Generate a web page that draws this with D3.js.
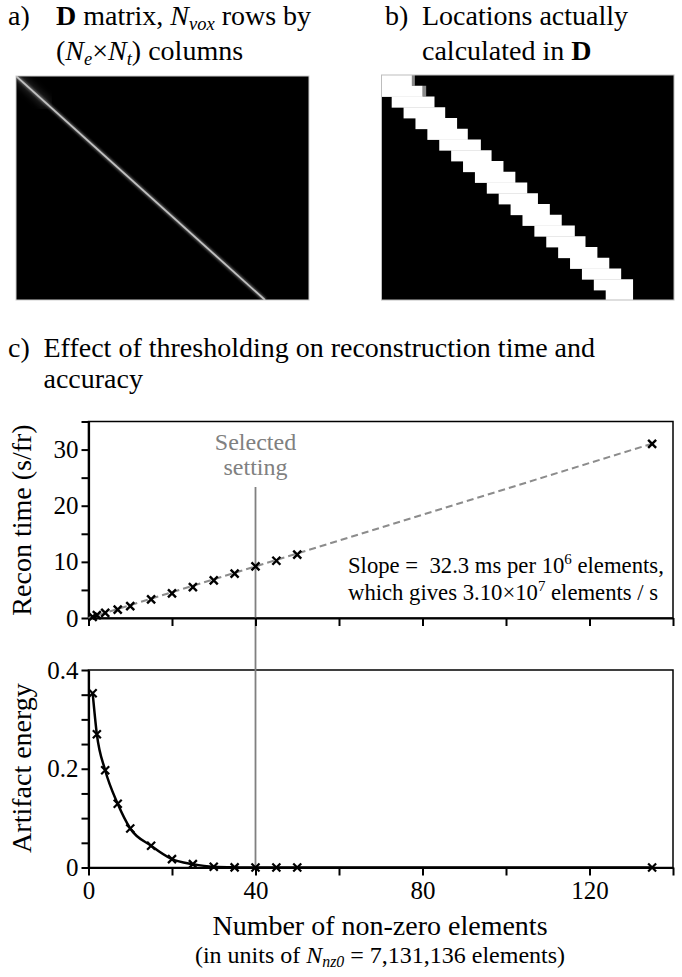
<!DOCTYPE html>
<html>
<head>
<meta charset="utf-8">
<script src="https://cdn.jsdelivr.net/npm/d3@7"></script>
<style>
  body { margin: 0; background: #fff; }
  svg { display: block; font-family: "Liberation Serif", "Times New Roman", serif; }
</style>
</head>
<body>
<svg id="fig" width="682" height="977"></svg>
<script>
// panel a: the diagonal of D (row fraction, column fraction)
const diagRow = [0, 1]
const diagCol = [0, 0.85]

// panel b: computed band, per block row (in block columns)
const bandStart = [0, 0, 1, 2, 3, 4, 5, 6, 7, 8, 9, 10, 11, 12, 13, 14, 15, 16, 17, 18, 19]
const bandEnd = [2.7, 3.6, 4.6, 5.5, 6.5, 7.4, 8.5, 9.4, 10.4, 11.4, 12.4, 13.3, 14.3, 15.3, 16.4, 17.3, 18.3, 19.3, 20.3, 21.3, 21.3]
const bandFringe = [2.95, 3.9]

// panel c
const nnz = [1, 2, 4, 7, 10, 15, 20, 25, 30, 35, 40, 45, 50, 135]
const reconTime = [0.2, 0.5, 0.9, 1.5, 2.1, 3.3, 4.4, 5.5, 6.7, 7.9, 9.2, 10.2, 11.3, 31.0]
const artifact = [0.353, 0.270, 0.197, 0.129, 0.079, 0.044, 0.017, 0.0068, 0.0014, 0.0003, 0, 0, 0, 0]
const fitX = [0, 135]
const fitY = [0, 31.05]
const selectedNnz = 40

const xTicks = [0, 20, 40, 60, 80, 100, 120, 140]
const xLabels = [0, 40, 80, 120]
const timeTicks = [0, 5, 10, 15, 20, 25, 30, 35]
const timeLabels = [0, 10, 20, 30]
const energyTicks = [0, 0.05, 0.1, 0.15, 0.2, 0.25, 0.3, 0.35, 0.4]
const energyLabels = [0, 0.2, 0.4]

const svg = d3.select('#fig')
const defs = svg.append('defs')
defs.append('filter').attr('id', 'blur').append('feGaussianBlur').attr('stdDeviation', 3.5)
defs.append('filter').attr('id', 'soft').append('feGaussianBlur').attr('stdDeviation', 1)

// ---------- panel a ----------
const ax = d3.scaleLinear().domain([0, 1]).range([16, 309])
const ay = d3.scaleLinear().domain([0, 1]).range([76, 300])
svg.append('rect')
  .attr('x', ax(0)).attr('y', ay(0))
  .attr('width', ax(1) - ax(0)).attr('height', ay(1) - ay(0))
  .attr('fill', '#000').attr('stroke', '#cfcfcf').attr('stroke-width', 1)
defs.append('clipPath').attr('id', 'clipA').append('rect')
  .attr('x', ax(0)).attr('y', ay(0)).attr('width', ax(1) - ax(0)).attr('height', ay(1) - ay(0))
const ga = svg.append('g').attr('clip-path', 'url(#clipA)')
// fuzzy start of the diagonal
ga.append('line')
  .attr('x1', ax(diagCol[0])).attr('y1', ay(diagRow[0]))
  .attr('x2', ax(diagCol[0] + (diagCol[1] - diagCol[0]) * 0.13))
  .attr('y2', ay(diagRow[0] + (diagRow[1] - diagRow[0]) * 0.13))
  .attr('stroke', '#5a5a5a').attr('stroke-width', 11).attr('opacity', 0.35)
  .attr('filter', 'url(#blur)')
ga.append('line')
  .attr('x1', ax(diagCol[0])).attr('y1', ay(diagRow[0]))
  .attr('x2', ax(diagCol[1])).attr('y2', ay(diagRow[1]))
  .attr('stroke', '#999').attr('stroke-width', 4).attr('opacity', 0.55)
  .attr('filter', 'url(#soft)')
ga.append('line')
  .attr('x1', ax(diagCol[0])).attr('y1', ay(diagRow[0]))
  .attr('x2', ax(diagCol[1])).attr('y2', ay(diagRow[1]))
  .attr('stroke', '#c0c0c0').attr('stroke-width', 1.8)

// ---------- panel b ----------
const bx = d3.scaleLinear().domain([0, 25]).range([379.8, 677.05])
const by = d3.scaleLinear().domain([0, 21]).range([75, 300.75])
defs.append('clipPath').attr('id', 'clipB').append('rect')
  .attr('x', 381.5).attr('y', 75).attr('width', 292.5).attr('height', 225)
svg.append('rect')
  .attr('x', 381.5).attr('y', 75).attr('width', 292.5).attr('height', 225)
  .attr('fill', '#000')
const gb = svg.append('g').attr('clip-path', 'url(#clipB)')
gb.selectAll('rect.fr')
  .data(bandFringe)
  .enter()
  .append('rect')
  .attr('class', 'fr')
  .attr('x', (d, i) => bx(bandEnd[i]))
  .attr('width', (d, i) => bx(d) - bx(bandEnd[i]))
  .attr('y', (d, i) => by(i))
  .attr('height', by(1) - by(0))
  .attr('fill', '#8a8a8a')
gb.selectAll('rect.band')
  .data(bandStart)
  .enter()
  .append('rect')
  .attr('class', 'band')
  .attr('x', (d, i) => bx(d))
  .attr('width', (d, i) => bx(bandEnd[i]) - bx(d))
  .attr('y', (d, i) => by(i))
  .attr('height', by(1) - by(0) + 0.4)
  .attr('fill', '#fff')
svg.append('rect')
  .attr('x', 381.5).attr('y', 75).attr('width', 292.5).attr('height', 225)
  .attr('fill', 'none').attr('stroke', '#bdbdbd').attr('stroke-width', 1)

// ---------- panel titles ----------
function addLine(x, y, size, parts, anchor) {
  const t = svg.append('text').attr('x', x).attr('y', y)
    .attr('font-size', size).attr('fill', '#000')
    .attr('text-anchor', anchor || 'start')
    .attr('xml:space', 'preserve')
  let shift = 0
  parts.forEach(p => {
    const s = t.append('tspan').text(p.t)
    if (p.b) s.attr('font-weight', 'bold')
    if (p.i) s.attr('font-style', 'italic')
    const want = p.sub ? size * 0.18 : (p.sup ? -size * 0.38 : 0)
    if (want !== shift) { s.attr('dy', want - shift); shift = want }
    if (p.sub || p.sup) s.attr('font-size', size * 0.66)
  })
  return t
}

addLine(8, 25, 28, [{t: 'a)'}])
addLine(56, 25, 28, [{t: 'D', b: 1}, {t: ' matrix, '}, {t: 'N', i: 1}, {t: 'vox', i: 1, sub: 1}, {t: ' rows by'}])
addLine(56, 60, 28, [{t: '('}, {t: 'N', i: 1}, {t: 'e', i: 1, sub: 1}, {t: '×'}, {t: 'N', i: 1}, {t: 't', i: 1, sub: 1}, {t: ') columns'}])
addLine(385, 25, 28, [{t: 'b)'}])
addLine(422, 25, 28, [{t: 'Locations actually'}])
addLine(422, 60, 28, [{t: 'calculated in '}, {t: 'D', b: 1}])
addLine(8, 357, 28, [{t: 'c)'}])
addLine(43.5, 357, 28, [{t: 'Effect of thresholding on reconstruction time and'}])
addLine(43.5, 388, 28, [{t: 'accuracy'}])

// ---------- panel c ----------
const x = d3.scaleLinear().domain([0, 140]).range([88.5, 673])
const yT = d3.scaleLinear().domain([0, 35]).range([618, 421.5])
const yE = d3.scaleLinear().domain([0, 0.4]).range([867.5, 670])

function frame(y) {
  svg.append('rect')
    .attr('x', x(0)).attr('y', y.range()[1])
    .attr('width', x(140) - x(0)).attr('height', y.range()[0] - y.range()[1])
    .attr('fill', 'none').attr('stroke', '#000').attr('stroke-width', 1.5)
}
frame(yT)
frame(yE)

function styleAxis(g) {
  g.select('.domain').attr('stroke', '#000').attr('stroke-width', 2.2)
  g.selectAll('.tick line').attr('stroke', '#000').attr('stroke-width', 2)
  g.selectAll('.tick text').attr('fill', '#000').attr('font-size', 25)
    .attr('font-family', '"Liberation Serif", "Times New Roman", serif')
}

// selected setting line
svg.append('line')
  .attr('x1', x(selectedNnz)).attr('x2', x(selectedNnz))
  .attr('y1', 487).attr('y2', yE(0))
  .attr('stroke', '#808080').attr('stroke-width', 1.8)
svg.append('text').attr('x', x(selectedNnz)).attr('y', 450)
  .attr('text-anchor', 'middle').attr('font-size', 24).attr('fill', '#808080').text('Selected')
svg.append('text').attr('x', x(selectedNnz)).attr('y', 475)
  .attr('text-anchor', 'middle').attr('font-size', 24).attr('fill', '#808080').text('setting')

// top axes
svg.append('g').attr('transform', `translate(0,${yT(0)})`)
  .call(d3.axisBottom(x).tickValues(xTicks).tickSize(8).tickSizeOuter(0).tickFormat(''))
  .call(styleAxis)
svg.append('g').attr('transform', `translate(${x(0)},0)`)
  .call(d3.axisLeft(yT).tickValues(timeTicks).tickSize(7).tickSizeOuter(0).tickPadding(3)
    .tickFormat(d => timeLabels.includes(d) ? d : ''))
  .call(styleAxis)

// bottom axes
svg.append('g').attr('transform', `translate(0,${yE(0)})`)
  .call(d3.axisBottom(x).tickValues(xTicks).tickSize(8).tickSizeOuter(0).tickPadding(6)
    .tickFormat(d => xLabels.includes(d) ? d : ''))
  .call(styleAxis)
svg.append('g').attr('transform', `translate(${x(0)},0)`)
  .call(d3.axisLeft(yE).tickValues(energyTicks).tickSize(7).tickSizeOuter(0).tickPadding(3)
    .tickFormat(d => energyLabels.includes(d) ? d : ''))
  .call(styleAxis)

// fit line
svg.append('path')
  .datum(fitX.map((d, i) => [d, fitY[i]]))
  .attr('d', d3.line().x(d => x(d[0])).y(d => yT(d[1])))
  .attr('fill', 'none').attr('stroke', '#8c8c8c').attr('stroke-width', 2)
  .attr('stroke-dasharray', '7,4')

// energy curve
svg.append('path')
  .datum(nnz.map((d, i) => [d, artifact[i]]))
  .attr('d', d3.line().curve(d3.curveMonotoneX).x(d => x(d[0])).y(d => yE(d[1])))
  .attr('fill', 'none').attr('stroke', '#000').attr('stroke-width', 2.5)

const cross = 'M-4,-4L4,4M-4,4L4,-4'
svg.selectAll('path.mt')
  .data(nnz)
  .enter()
  .append('path')
  .attr('class', 'mt')
  .attr('d', cross)
  .attr('transform', (d, i) => `translate(${x(d)},${yT(reconTime[i])})`)
  .attr('stroke', '#000').attr('stroke-width', 2.4)
svg.selectAll('path.me')
  .data(nnz)
  .enter()
  .append('path')
  .attr('class', 'me')
  .attr('d', cross)
  .attr('transform', (d, i) => `translate(${x(d)},${yE(artifact[i])})`)
  .attr('stroke', '#000').attr('stroke-width', 2.2)

// slope note
addLine(348, 573, 22.7, [{t: 'Slope =\u00A0 32.3 ms per 10'}, {t: '6', sup: 1}, {t: ' elements,'}])
addLine(348, 600, 22.7, [{t: 'which gives 3.10×10'}, {t: '7', sup: 1}, {t: ' elements / s'}])

// axis titles
svg.append('text').attr('transform', 'translate(31,520) rotate(-90)')
  .attr('text-anchor', 'middle').attr('font-size', 28).text('Recon time (s/fr)')
svg.append('text').attr('transform', 'translate(31,768) rotate(-90)')
  .attr('text-anchor', 'middle').attr('font-size', 28).text('Artifact energy')
addLine(380, 935, 28, [{t: 'Number of non-zero elements'}], 'middle')
addLine(380, 963, 24, [{t: '(in units of '}, {t: 'N', i: 1}, {t: 'nz0', i: 1, sub: 1}, {t: ' = 7,131,136 elements)'}], 'middle')
</script>
</body>
</html>
